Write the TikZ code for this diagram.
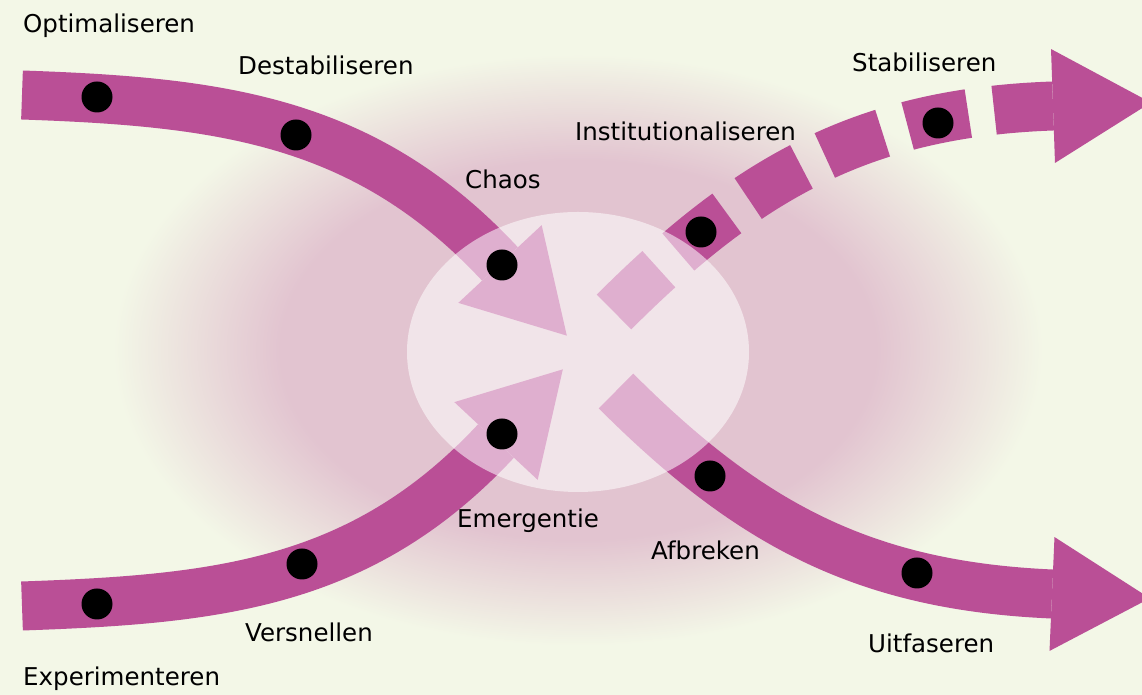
\documentclass[tikz,border=0pt]{standalone}
\usepackage{fontspec}
\setmainfont{DejaVu Sans}
\usetikzlibrary{calc}
\definecolor{bgc}{RGB}{243,247,231}
\definecolor{glowpink}{RGB}{226,196,208}
\definecolor{flowc}{RGB}{186,79,150}
\pgfdeclareradialshading{glow}{\pgfpoint{0bp}{0bp}}{color(0bp)=(glowpink); color(16bp)=(glowpink); color(25bp)=(bgc); color(50bp)=(bgc)}
\newcommand{\headat}[2]{\fill[flowc] ($(#1)+(#2+90:57)$) -- ($(#1)+(#2:98)$) -- ($(#1)+(#2-90:57)$) -- cycle;}

\begin{document}
\begin{tikzpicture}[x=1bp,y=1bp,
  flow/.style={draw=flowc,line width=49bp},
  dot/.style={circle,fill=black,inner sep=0pt,minimum size=31bp},
  lbl/.style={anchor=base west,inner sep=0pt,font=\fontsize{24.6}{28}\selectfont}]
\useasboundingbox[fill=bgc] (0,0) rectangle (1142,695);
\shade[shading=glow] (578,345) ellipse [x radius=465,y radius=296];
%flows in
\coordinate (opt) at (22,600); \coordinate (chaos) at (500,431);
\coordinate (exp) at (22,89); \coordinate (emerg) at (496,254);
\draw[flow] (opt) to[out=-2,in=133] (chaos); \headat{chaos}{-47}
\draw[flow] (exp) to[out=2,in=-133] (emerg); \headat{emerg}{47}
%flows out
\coordinate (inst) at (614,383); \coordinate (stab) at (1053,589);
\coordinate (afb) at (616,304); \coordinate (uitf) at (1052,101);
\draw[flow,dash pattern=on 62bp off 26bp on 62bp off 26bp on 62bp off 26bp on 62bp off 26bp on 62bp off 26bp on 300bp] (inst) to[out=45,in=182] (stab); \headat{stab}{2}
\draw[flow] (afb) to[out=-45,in=177.5] (uitf); \headat{uitf}{-2.5}
%centre
\fill[white,fill opacity=0.55] (578,343) ellipse [x radius=171,y radius=140];
%dots
\node[dot] (dopt) at (97,598) {};
\node[dot] (ddest) at (296,560) {};
\node[dot] (dchaos) at (502,430) {};
\node[dot] (dexp) at (97,91) {};
\node[dot] (dvers) at (302,131) {};
\node[dot] (demerg) at (502,261) {};
\node[dot] (dinst) at (701,463) {};
\node[dot] (dstab) at (938,572) {};
\node[dot] (dafb) at (710,219) {};
\node[dot] (duitf) at (917,122) {};
%labels
\node[lbl] (lopt) at (23,662) {Optimaliseren};
\node[lbl] (ldest) at (238,620) {Destabiliseren};
\node[lbl] (lchaos) at (465,506) {Chaos};
\node[lbl] (linst) at (575,554) {Institutionaliseren};
\node[lbl] (lstab) at (852,623) {Stabiliseren};
\node[lbl] (lemerg) at (457,167) {Emergentie};
\node[lbl] (lafb) at (651,135) {Afbreken};
\node[lbl] (luitf) at (868,42) {Uitfaseren};
\node[lbl] (lvers) at (245,53) {Versnellen};
\node[lbl] (lexp) at (23,9) {Experimenteren};
\end{tikzpicture}
\end{document}
